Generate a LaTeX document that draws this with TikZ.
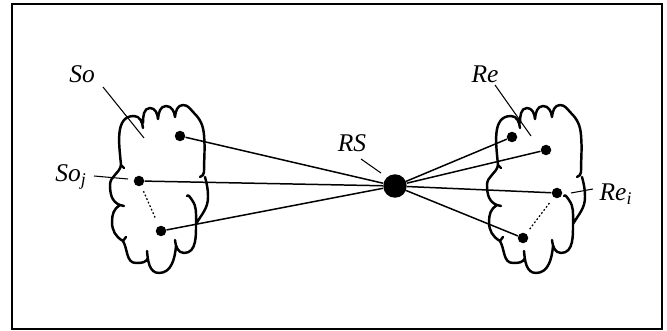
\documentclass[tikz,border=0pt]{standalone}
\usepackage{fontspec}
\setmainfont{Liberation Serif}
\newcommand\lblsize{\fontsize{14.5}{17}\selectfont\itshape}
\begin{document}
\begin{tikzpicture}[x=0.02cm,y=-0.02cm,
  frame/.style={line width=1.3pt},
  cloudline/.style={line width=1.4pt, line cap=round, line join=round},
  dot/.style={circle, fill=black, inner sep=0pt, minimum size=0.21cm},
  bigdot/.style={circle, fill=black, inner sep=0pt, minimum size=0.47cm},
  conn/.style={line width=0.85pt},
  leader/.style={line width=0.6pt},
  dotline/.style={line width=0.7pt, dash pattern=on 1pt off 1.2pt},
  lbl/.style={inner sep=0pt, anchor=base},
  cloudpic/.pic={
    \draw[cloudline]
     (121,165) to[out=95,in=180] (134,116) to[out=0,in=95] (143,128)
     (143,123) to[out=90,in=180] (150,108) to[out=0,in=95] (158,119)
     (158,119) to[out=85,in=180] (166,106) to[out=0,in=95] (175,117)
     (175,117) to[out=85,in=180] (183,105) to[out=0,in=135] (194,113)
       to[out=-45,in=95] (204,135) to[out=-85,in=90] (204,172) to[out=-90,in=20] (200,177)
     (205,177) to[out=-75,in=90] (208,197) to[out=-90,in=60] (196,224)
     (187,196) to[out=60,in=125] (192,200) to[out=-55,in=90] (196,222)
       to[out=-90,in=0] (184,253) to[out=180,in=-85] (175,240)
     (176,246) to[out=-95,in=0] (159,273) to[out=180,in=-85] (147,251)
     (148,258) to[out=-110,in=0] (136,263) to[out=180,in=-60] (123,241)
       to[out=150,in=-90] (112,222) to[out=90,in=-150] (120,205)
       to[out=160,in=-90] (110,185) to[out=90,in=-100] (121,165)
     (120,205) to[out=-20,in=180] (124,206)
     (123,241) to[out=40,in=-120] (126,237)
     (121,165) to[out=-60,in=160] (124,168);
  }
]
\useasboundingbox (0,0) rectangle (667,331);
\draw[frame] (12,4) rectangle (662,329);

\pic at (0,0) {cloudpic};
\pic at (377,0) {cloudpic};

\node[bigdot] (rs) at (395,186) {};
\node[dot] (s1) at (180,136) {};
\node[dot] (sj) at (139,181) {};
\node[dot] (s2) at (161,231) {};
\node[dot] (r1) at (512,137) {};
\node[dot] (r2) at (546,150) {};
\node[dot] (ri) at (557,193) {};
\node[dot] (r3) at (523,238) {};

\draw[conn] (s1) -- (rs);
\draw[conn] (sj) -- (rs);
\draw[conn] (s2) -- (rs);
\draw[conn] (r1) -- (rs);
\draw[conn] (r2) -- (rs);
\draw[conn] (ri) -- (rs);
\draw[conn] (r3) -- (rs);

\draw[dotline, shorten <=0.11cm, shorten >=0.16cm] (sj) -- (s2);
\draw[dotline, shorten <=0.14cm, shorten >=0.08cm] (ri) -- (r3);

\node[lbl] (lso) at (82,83) {\lblsize So};
\node[lbl] (lsoj) at (71,182) {\lblsize So\textsubscript{j}};
\node[lbl] (lrs) at (352,152) {\lblsize RS};
\node[lbl] (lre) at (485,83) {\lblsize Re};
\node[lbl] (lrei) at (616,201) {\lblsize Re\textsubscript{i}};

\coordinate (so-a) at (103,87);  \coordinate (so-b) at (144,138);
\coordinate (soj-a) at (94,176); \coordinate (soj-b) at (128,179);
\coordinate (rs-a) at (361,159); \coordinate (rs-b) at (381,173);
\coordinate (re-a) at (495,85);  \coordinate (re-b) at (531,136);
\coordinate (rei-a) at (593,189); \coordinate (rei-b) at (571,193);

\draw[leader] (so-a) -- (so-b);
\draw[leader] (soj-a) -- (soj-b);
\draw[leader] (rs-a) -- (rs-b);
\draw[leader] (re-a) -- (re-b);
\draw[leader] (rei-a) -- (rei-b);
\end{tikzpicture}
\end{document}
